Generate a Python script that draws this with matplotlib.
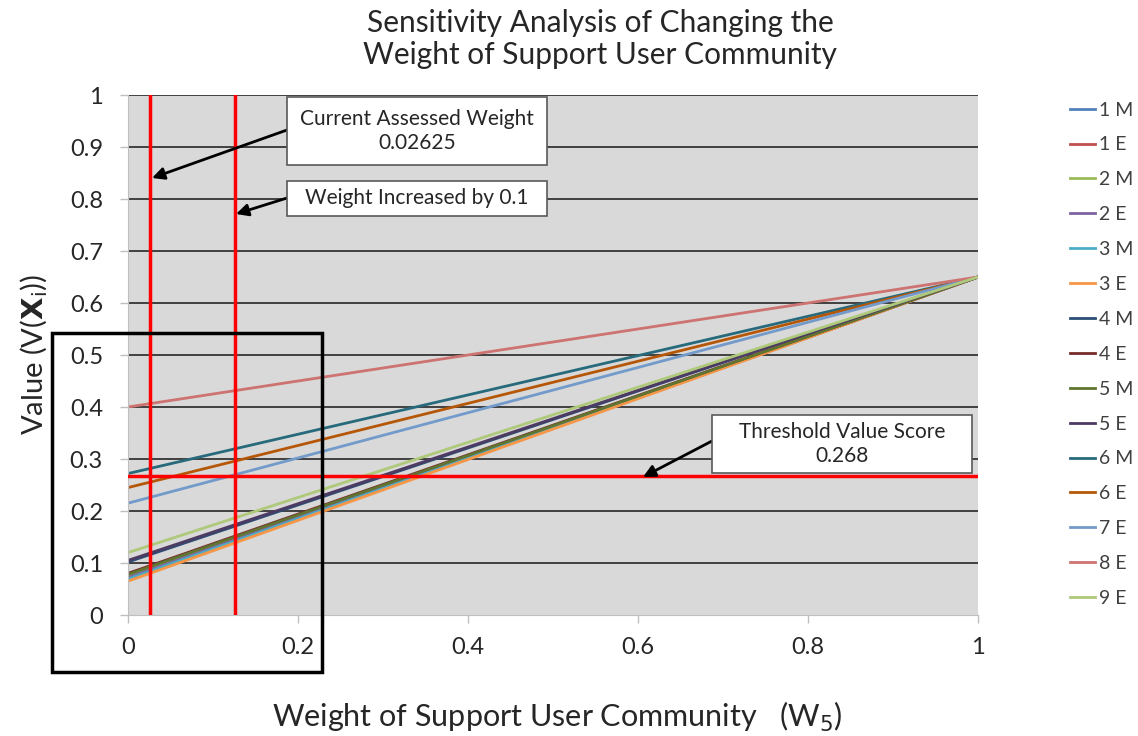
import matplotlib
matplotlib.use("Agg")
import matplotlib.pyplot as plt
from matplotlib.patches import Rectangle

plt.rcParams['font.family'] = ['Lato', 'DejaVu Sans']

# ---- data ----
weights = [0.0, 1.0]
series_names = ["1 M", "1 E", "2 M", "2 E", "3 M", "3 E", "4 M", "4 E",
                "5 M", "5 E", "6 M", "6 E", "7 E", "8 E", "9 E"]
start_values = [0.070, 0.068, 0.075, 0.072, 0.069, 0.065, 0.102, 0.080,
                0.078, 0.105, 0.272, 0.245, 0.215, 0.400, 0.120]
end_values = [0.65] * 15
series_colors = ["#4F81BD", "#C0504D", "#9BBB59", "#8064A2", "#4BACC6",
                 "#F79646", "#2C4D75", "#772C2A", "#5F7530", "#4D3B62",
                 "#276A7C", "#B65708", "#729ACA", "#CD7371", "#AFC97A"]
current_weight = 0.02625
increased_weight = 0.12625
threshold = 0.268
x_ticks = [0, 0.2, 0.4, 0.6, 0.8, 1]
x_tick_labels = ["0", "0.2", "0.4", "0.6", "0.8", "1"]
y_ticks = [0, 0.1, 0.2, 0.3, 0.4, 0.5, 0.6, 0.7, 0.8, 0.9, 1]
y_tick_labels = ["0", "0.1", "0.2", "0.3", "0.4", "0.5", "0.6", "0.7", "0.8", "0.9", "1"]

W, H = 1138, 736
fig = plt.figure(figsize=(W / 100, H / 100), dpi=100)

def fx(px):
    return px / W

def fy(py):
    return 1 - py / H

ax = fig.add_axes([fx(128), fy(615), fx(978) - fx(128), fy(95) - fy(615)])
ax.set_facecolor("#D9D9D9")

for y in y_ticks[1:]:
    ax.axhline(y, color="#404040", lw=1.4, zorder=1)

for name, s, e, c in zip(series_names, start_values, end_values, series_colors):
    ax.plot(weights, [s, e], color=c, lw=2, label=name, zorder=2)

ax.plot([current_weight, current_weight], [0, 1], color="#FF0000", lw=2.5, zorder=3)
ax.plot([increased_weight, increased_weight], [0, 1], color="#FF0000", lw=2.5, zorder=3)
ax.plot([0, 1], [threshold, threshold], color="#FF0000", lw=2.5, zorder=3)

ax.set_xlim(0, 1)
ax.set_ylim(0, 1)
ax.set_xticks(x_ticks)
ax.set_xticklabels(x_tick_labels, fontsize=17)
ax.set_yticks(y_ticks)
ax.set_yticklabels(y_tick_labels, fontsize=17)
for sp in ["top", "right"]:
    ax.spines[sp].set_visible(False)
for sp in ["left", "bottom"]:
    ax.spines[sp].set_color("#BFBFBF")
ax.tick_params(axis="both", colors="#BFBFBF", labelcolor="#262626", length=6, width=1)
ax.tick_params(axis="y", pad=12)
ax.tick_params(axis="x", pad=10)

ax.set_ylabel(r"Value (V($\mathbf{X}_\mathrm{i}$))", fontsize=21, color="#262626", labelpad=14)
fig.text(fx(557), fy(717), r"Weight of Support User Community   (W$_5$)",
         fontsize=22, ha="center", va="center", color="#262626")
fig.text(fx(600), fy(39), "Sensitivity Analysis of Changing the\nWeight of Support User Community",
         fontsize=21.5, ha="center", va="center", color="#262626", linespacing=1.15)

ax.legend(loc="upper left", bbox_to_anchor=(fx(1052), fy(84)), bbox_transform=fig.transFigure,
          frameon=False, fontsize=14, handlelength=1.3, handletextpad=0.2,
          labelspacing=0.92, labelcolor="#404040")

# annotation boxes
def box(x0, y0, x1, y1, text):
    fig.patches.append(Rectangle((fx(x0), fy(y1)), fx(x1) - fx(x0), fy(y0) - fy(y1),
                                 transform=fig.transFigure, facecolor="white",
                                 edgecolor="#595959", lw=1.2, zorder=5))
    fig.text(fx((x0 + x1) / 2), fy((y0 + y1) / 2), text, ha="center", va="center",
             fontsize=15, color="#262626", zorder=6, linespacing=1.25)

def arrow(x0, y0, x1, y1):
    ax.annotate("", xy=(fx(x1), fy(y1)), xycoords=fig.transFigure,
                xytext=(fx(x0), fy(y0)), textcoords=fig.transFigure,
                arrowprops=dict(arrowstyle="-|>", color="black", lw=2,
                                mutation_scale=18, shrinkA=0, shrinkB=0), zorder=6)

box(287, 97, 547, 165, "Current Assessed Weight\n0.02625")
box(287, 181, 547, 216, "Weight Increased by 0.1")
box(712, 415, 972, 473, "Threshold Value Score\n0.268")
arrow(287, 130, 152, 178)
arrow(287, 198, 236, 214)
arrow(712, 441, 643, 477)

# black outline box
fig.patches.append(Rectangle((fx(52), fy(672)), fx(322) - fx(52), fy(333) - fy(672),
                             transform=fig.transFigure, facecolor="none",
                             edgecolor="black", lw=2.5, zorder=7))

fig.savefig("out.png", dpi=100, facecolor="white")
